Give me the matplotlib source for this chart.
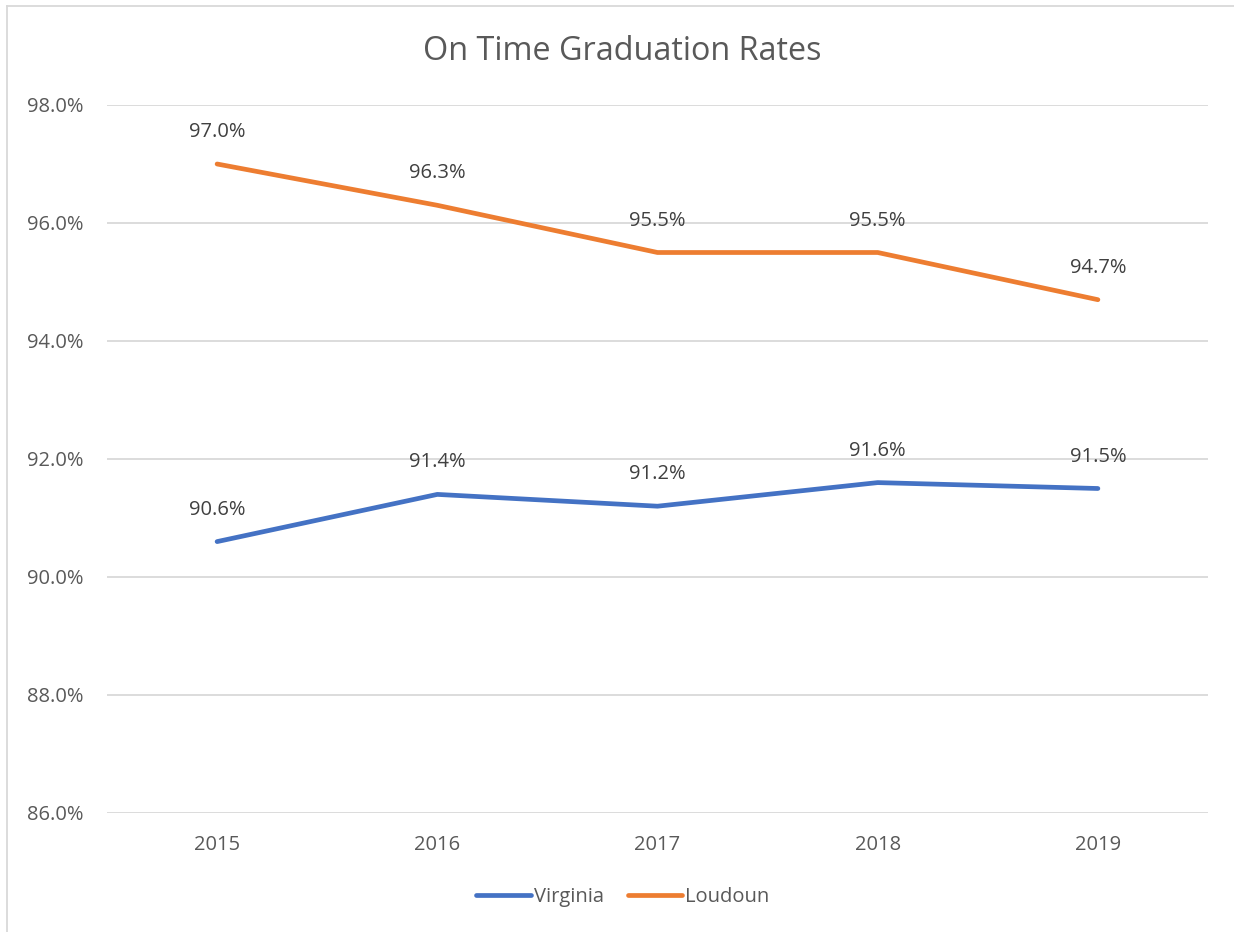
import matplotlib.pyplot as plt
from matplotlib.lines import Line2D
from matplotlib.ticker import FuncFormatter

years = ["2015", "2016", "2017", "2018", "2019"]
virginia = [90.6, 91.4, 91.2, 91.6, 91.5]
loudoun = [97.0, 96.3, 95.5, 95.5, 94.7]

text_color = "#595959"
plt.rcParams['font.family'] = ['Open Sans', 'DejaVu Sans']

fig = plt.figure(figsize=(12.34, 9.32), dpi=100)
ax = fig.add_axes([107/1234, 1 - 813/932, 1101/1234, 708/932])

x = range(len(years))
ax.plot(x, virginia, color="#4472C4", lw=3.4, solid_capstyle="round", label="Virginia")
ax.plot(x, loudoun, color="#ED7D31", lw=3.4, solid_capstyle="round", label="Loudoun")

for series in (virginia, loudoun):
    for i, v in enumerate(series):
        ax.annotate(f"{v:.1f}%", (i, v), xytext=(0, 23), textcoords="offset points",
                    ha="center", va="center", fontsize=14.5, color="#404040")

ax.set_xlim(-0.5, 4.5)
ax.set_ylim(86, 98)
ax.set_yticks([86, 88, 90, 92, 94, 96, 98])
ax.yaxis.set_major_formatter(FuncFormatter(lambda v, p: f"{v:.1f}%"))
ax.set_xticks(list(x))
ax.set_xticklabels(years)
ax.tick_params(length=0, labelsize=14.5, labelcolor=text_color)
ax.tick_params(axis="y", pad=17)
ax.tick_params(axis="x", pad=16)
ax.grid(axis="y", color="#D9D9D9", lw=1.3)
ax.set_axisbelow(True)
for s in ax.spines.values():
    s.set_visible(False)

fig.text(622/1234, 1 - 52/932, "On Time Graduation Rates", ha="center", va="center",
         fontsize=23.3, color=text_color)

handles = [Line2D([], [], color="#4472C4", lw=3.4, solid_capstyle="round"),
           Line2D([], [], color="#ED7D31", lw=3.4, solid_capstyle="round")]
fig.legend(handles, ["Virginia", "Loudoun"], loc="center", bbox_to_anchor=(623/1234, 1 - 897/932),
           ncol=2, frameon=False, fontsize=14.5, labelcolor=text_color, handlelength=2.7,
           handletextpad=0.15, columnspacing=1.2)

# chart border (left and top edges visible in crop)
fig.add_artist(Line2D([7/1234, 7/1234], [0, 1 - 6/932], transform=fig.transFigure, color="#D9D9D9", lw=1.3))
fig.add_artist(Line2D([7/1234, 1], [1 - 6/932, 1 - 6/932], transform=fig.transFigure, color="#D9D9D9", lw=1.3))

fig.savefig("out.png", dpi=100)
